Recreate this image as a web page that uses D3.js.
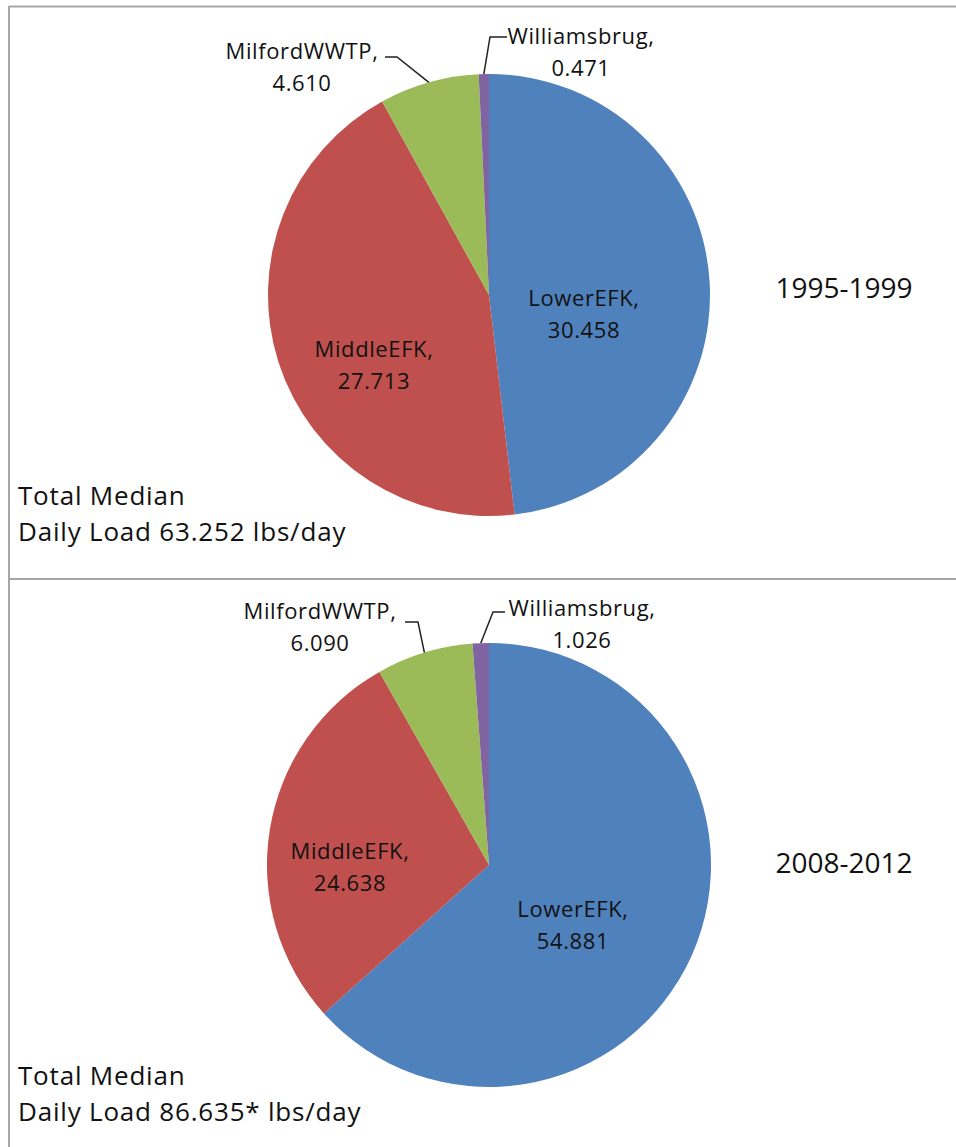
<!DOCTYPE html>
<html><head><meta charset="utf-8">
<script src="https://cdn.jsdelivr.net/npm/d3@7"></script>
<style>
html,body{margin:0;padding:0;background:#fff;}
svg{display:block;}
text{font-family:"Open Sans",sans-serif;fill:#111;}
</style></head>
<body>
<svg id="chart" width="956" height="1147"></svg>
<script>
// ---- data ----
const categories = ["LowerEFK", "MiddleEFK", "MilfordWWTP", "Williamsbrug"];
const load1995 = [30.458, 27.713, 4.610, 0.471];
const load2008 = [54.881, 24.638, 6.090, 1.026];
const valueLabels1995 = ["30.458", "27.713", "4.610", "0.471"];
const valueLabels2008 = ["54.881", "24.638", "6.090", "1.026"];
const periods = ["1995-1999", "2008-2012"];
const totals = ["63.252", "86.635*"];

// ---- layout / style ----
const colors = ["#4F81BD", "#C0504D", "#9BBB59", "#8064A2"];
const panels = [
  {values: load1995, labels: valueLabels1995, period: periods[0], total: totals[0],
   cx: 489, cy: 295, r: 221, yearY: 298, totalY: 505,
   lab: [{dx: 95, dy: 11}, {dx: -115, dy: 62}, {dx: -187, dy: -236}, {dx: 92, dy: -251}],
   lead: {2: {sx: -104, sy: -238, ex: -92}, 3: {sx: 18, sy: -258, ex: 1}}},
  {values: load2008, labels: valueLabels2008, period: periods[1], total: totals[1],
   cx: 489, cy: 865, r: 222, yearY: 873, totalY: 1085,
   lab: [{dx: 84, dy: 52}, {dx: -139, dy: -6}, {dx: -169, dy: -246}, {dx: 93, dy: -249}],
   lead: {2: {sx: -84, sy: -243, ex: -71}, 3: {sx: 16, sy: -253, ex: 4}}}
];

const svg = d3.select("#chart");

// frame lines
const frame = svg.append("g").attr("stroke", "#a6a6a6").attr("stroke-width", 2);
frame.append("line").attr("x1", 9).attr("x2", 956).attr("y1", 6.5).attr("y2", 6.5);
frame.append("line").attr("x1", 9).attr("x2", 9).attr("y1", 6).attr("y2", 1147);
frame.append("line").attr("x1", 9).attr("x2", 956).attr("y1", 579).attr("y2", 579);

const pie = d3.pie().sort(null).value(d => d);

panels.forEach(p => {
  const g = svg.append("g").attr("transform", `translate(${p.cx},${p.cy})`);
  const arcs = pie(p.values);
  const arc = d3.arc().innerRadius(0).outerRadius(p.r);
  g.selectAll("path.slice").data(arcs).enter().append("path")
    .attr("class", "slice")
    .attr("d", arc)
    .attr("fill", (d, i) => colors[i]);

  // leader lines
  arcs.forEach((d, i) => {
    const L = p.lead[i];
    if (!L) return;
    const mid = (d.startAngle + d.endAngle) / 2;
    const px = p.r * Math.sin(mid), py = -p.r * Math.cos(mid);
    g.append("path")
      .attr("d", d3.line()([[L.sx, L.sy], [L.ex, L.sy], [px, py]]))
      .attr("fill", "none").attr("stroke", "#222").attr("stroke-width", 1.5);
  });

  // data labels
  arcs.forEach((d, i) => {
    const pos = p.lab[i];
    const t = g.append("text").attr("text-anchor", "middle")
      .attr("font-size", 22).attr("letter-spacing", 0.6);
    t.append("tspan").attr("x", pos.dx).attr("y", pos.dy).text(categories[i] + ",");
    t.append("tspan").attr("x", pos.dx).attr("y", pos.dy + 32).text(p.labels[i]);
  });

  // period label
  svg.append("text").attr("x", 844).attr("y", p.yearY).attr("text-anchor", "middle")
    .attr("font-size", 28).text(p.period);

  // total text
  svg.append("text").attr("font-size", 26).attr("letter-spacing", 0.8)
    .attr("x", 18).attr("y", p.totalY).text("Total Median");
  svg.append("text").attr("font-size", 26).attr("letter-spacing", 0.8)
    .attr("x", 18).attr("y", p.totalY + 36).text("Daily Load " + p.total + " lbs/day");
});
</script>
</body></html>
